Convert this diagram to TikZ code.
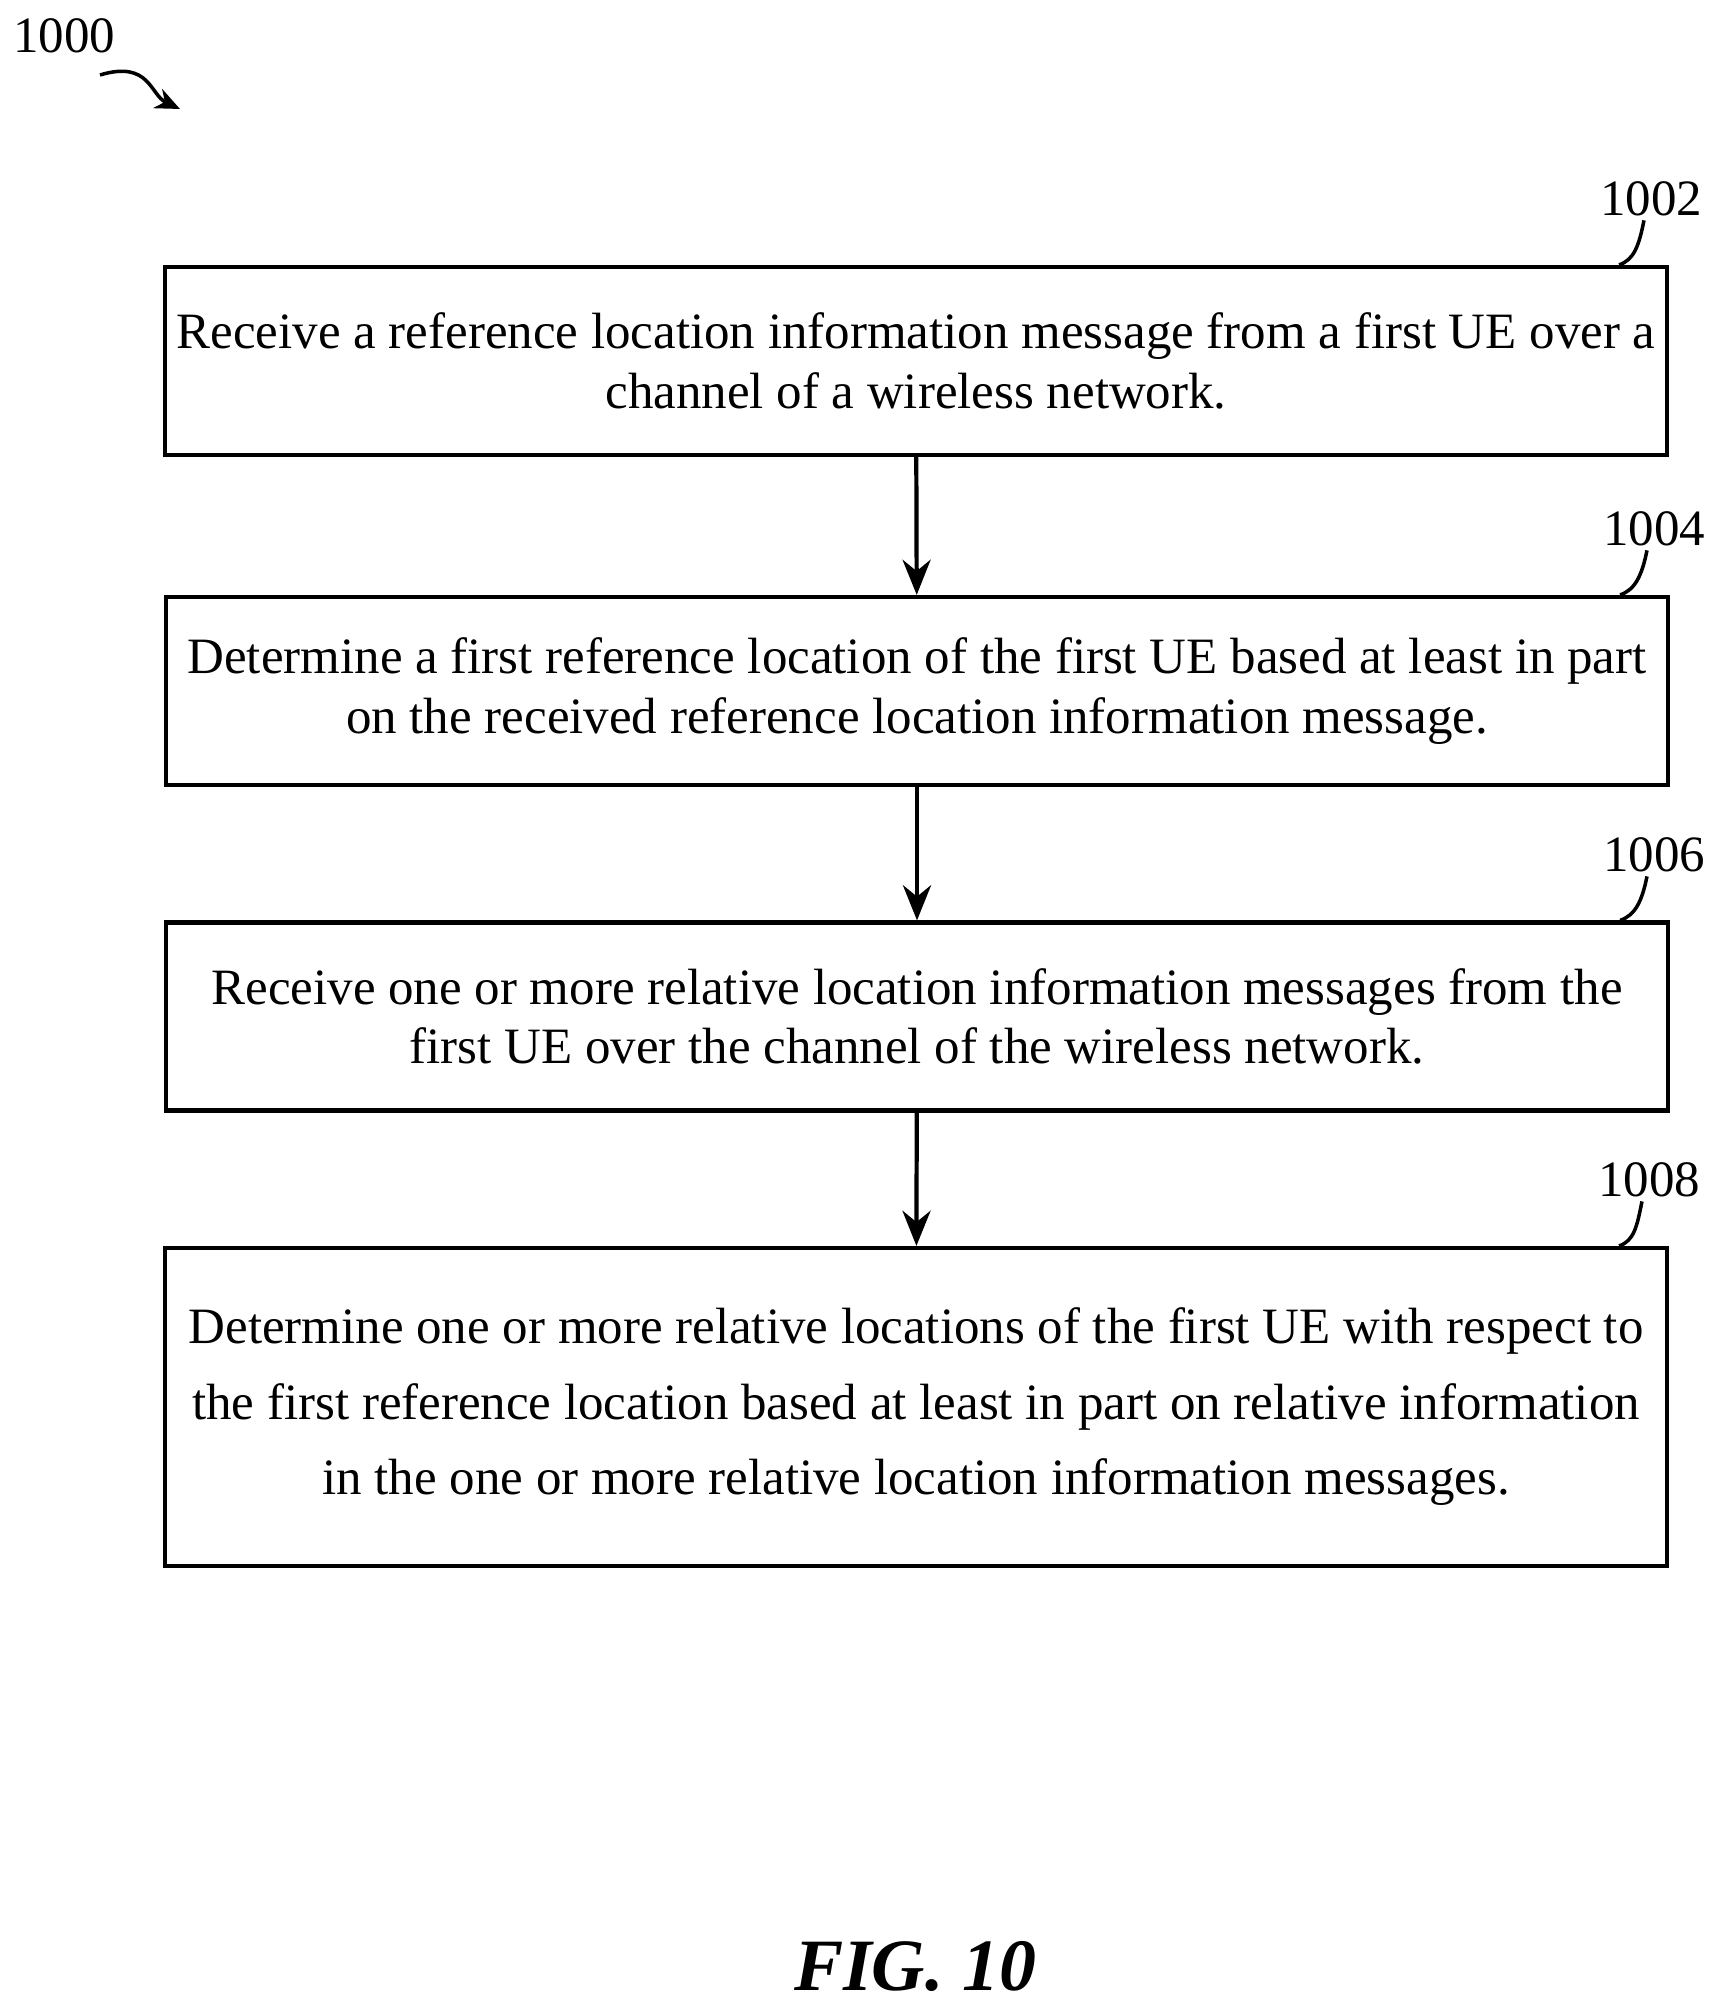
\documentclass[tikz,border=0pt]{standalone}
\usepackage{fontspec}
\setmainfont{Liberation Serif}
\usetikzlibrary{arrows.meta}
\tikzset{
  stepbox/.style={draw, line width=1.2pt, minimum width=15.02cm, align=center, inner sep=0pt,
    font=\fontsize{14.5}{17}\selectfont},
  ref/.style={font=\fontsize{14.5}{17}\selectfont, inner sep=1pt},
  flow/.style={-{Stealth[length=10pt,width=8pt]}, line width=1.2pt},
  tick/.style={line width=1pt}
}
\begin{document}
\begin{tikzpicture}
\useasboundingbox (0,0) rectangle (17.22,20.15);

% steps
\node[stepbox, minimum height=1.88cm] (s1) at (9.16,16.54) {Receive a reference location information message from a first UE over a\\ channel of a wireless network.};
\node[stepbox, minimum height=1.88cm] (s2) at (9.17,13.24) {Determine a first reference location of the first UE based at least in part\\ on the received reference location information message.};
\node[stepbox, minimum height=1.88cm] (s3) at (9.17,9.985) {Receive one or more relative location information messages from the\\ first UE over the channel of the wireless network.};
\node[stepbox, minimum height=3.18cm, font=\fontsize{14.5}{21.5}\selectfont] (s4) at (9.16,6.08) {Determine one or more relative locations of the first UE with respect to\\ the first reference location based at least in part on relative information\\ in the one or more relative location information messages.};

% reference numerals
\node[ref] (r1) at (16.51,18.16) {1002};
\node[ref] (r2) at (16.54,14.86) {1004};
\node[ref] (r3) at (16.54,11.60) {1006};
\node[ref] (r4) at (16.49,8.35) {1008};
\node[ref] (r0) at (0.64,19.79) {1000};
\node[font=\fontsize{21}{24}\bfseries\itshape\selectfont] (fig) at (9.15,0.49) {FIG. 10};

% connectors
\draw[flow] (s1) -- (s2);
\draw[flow] (s2) -- (s3);
\draw[flow] (s3) -- (s4);

% leader ticks
\foreach \r/\s in {r1/s1, r2/s2, r3/s3, r4/s4}
  \draw[tick] ([xshift=-2pt]\r.south) .. controls +(-0.05,-0.25) and +(0.15,0.05) .. ([xshift=-0.5cm]\s.north east);
\coordinate (a0) at (1.80,19.06);
\draw[tick, -{Stealth[length=7pt,width=6pt]}] (1.0,19.40) .. controls (1.5,19.55) and (1.5,19.2) .. (a0);
\end{tikzpicture}
\end{document}
